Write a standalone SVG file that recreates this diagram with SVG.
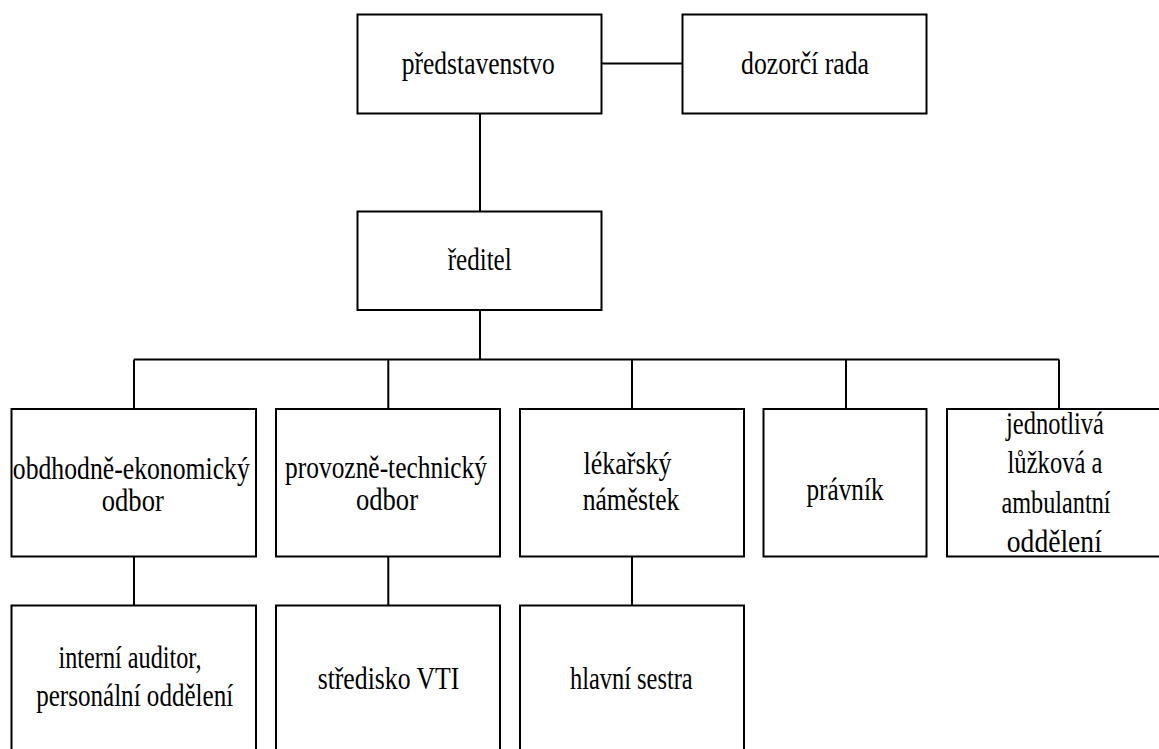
<svg xmlns="http://www.w3.org/2000/svg" width="1159" height="749" viewBox="0 0 1159 749">
<style>
.box{fill:#fff;stroke:#000;stroke-width:2}
.ln{fill:none;stroke:#000;stroke-width:2}
</style>
<rect width="1159" height="749" fill="#fff"/>
<g id="connectors">
<path class="ln" d="M601.5 63.5H682.5"/>
<path class="ln" d="M480 113.5V211.5"/>
<path class="ln" d="M480 310V359.5"/>
<path class="ln" d="M134 359.5H1059"/>
<path class="ln" d="M134 359.5V409M388.3 359.5V409M632 359.5V409M846 359.5V409M1059 359.5V409"/>
<path class="ln" d="M134 556.5V605.5M388.3 556.5V605.5M632 556.5V605.5"/>
</g>
<g id="predstavenstvo"><rect class="box" x="357.5" y="14.5" width="244" height="99"/><text font-family="Liberation Serif" font-size="31" text-anchor="middle" x="478.3" y="74" textLength="153" lengthAdjust="spacingAndGlyphs">představenstvo</text></g>
<g id="dozorci-rada"><rect class="box" x="682.5" y="14.5" width="244" height="99"/><text font-family="Liberation Serif" font-size="31" text-anchor="middle" x="805" y="73.5" textLength="128" lengthAdjust="spacingAndGlyphs">dozorčí rada</text></g>
<g id="reditel"><rect class="box" x="357.5" y="211.5" width="244" height="98.5"/><text font-family="Liberation Serif" font-size="31" text-anchor="middle" x="479.7" y="269.5" textLength="64" lengthAdjust="spacingAndGlyphs">ředitel</text></g>
<g id="obchodne-ekonomicky"><rect class="box" x="11.5" y="409" width="244.5" height="147.5"/><text font-family="Liberation Serif" font-size="31" text-anchor="middle" x="131.3" y="479" textLength="237" lengthAdjust="spacingAndGlyphs">obdhodně-ekonomický</text><text font-family="Liberation Serif" font-size="31" text-anchor="middle" x="132.8" y="510.5" textLength="62" lengthAdjust="spacingAndGlyphs">odbor</text></g>
<g id="provozne-technicky"><rect class="box" x="276" y="409" width="224" height="147.5"/><text font-family="Liberation Serif" font-size="31" text-anchor="middle" x="386" y="478" textLength="202" lengthAdjust="spacingAndGlyphs">provozně-technický</text><text font-family="Liberation Serif" font-size="31" text-anchor="middle" x="387" y="509.5" textLength="62" lengthAdjust="spacingAndGlyphs">odbor</text></g>
<g id="lekarsky-namestek"><rect class="box" x="520" y="409" width="224" height="147.5"/><text font-family="Liberation Serif" font-size="31" text-anchor="middle" x="627.5" y="474" textLength="88" lengthAdjust="spacingAndGlyphs">lékařský</text><text font-family="Liberation Serif" font-size="31" text-anchor="middle" x="631" y="509.5" textLength="96.7" lengthAdjust="spacingAndGlyphs">náměstek</text></g>
<g id="pravnik"><rect class="box" x="763.5" y="409" width="163" height="147.5"/><text font-family="Liberation Serif" font-size="31" text-anchor="middle" x="845" y="499.5" textLength="77" lengthAdjust="spacingAndGlyphs">právník</text></g>
<g id="oddeleni"><rect class="box" x="947" y="409" width="224" height="147.5"/><text font-family="Liberation Serif" font-size="31" text-anchor="middle" x="1055" y="434" textLength="98" lengthAdjust="spacingAndGlyphs">jednotlivá</text><text font-family="Liberation Serif" font-size="31" text-anchor="middle" x="1055" y="473.3" textLength="95" lengthAdjust="spacingAndGlyphs">lůžková a</text><text font-family="Liberation Serif" font-size="31" text-anchor="middle" x="1056" y="512.7" textLength="109" lengthAdjust="spacingAndGlyphs">ambulantní</text><text font-family="Liberation Serif" font-size="31" text-anchor="middle" x="1054.3" y="552" textLength="95" lengthAdjust="spacingAndGlyphs">oddělení</text></g>
<g id="auditor"><rect class="box" x="11.5" y="605.5" width="244.5" height="160"/><text font-family="Liberation Serif" font-size="31" text-anchor="middle" x="130" y="668.3" textLength="143" lengthAdjust="spacingAndGlyphs">interní auditor,</text><text font-family="Liberation Serif" font-size="31" text-anchor="middle" x="134.7" y="706" textLength="197" lengthAdjust="spacingAndGlyphs">personální oddělení</text></g>
<g id="stredisko-vti"><rect class="box" x="276" y="605.5" width="224" height="160"/><text font-family="Liberation Serif" font-size="31" text-anchor="middle" x="388.5" y="689" textLength="141.7" lengthAdjust="spacingAndGlyphs">středisko VTI</text></g>
<g id="hlavni-sestra"><rect class="box" x="520" y="605.5" width="224" height="160"/><text font-family="Liberation Serif" font-size="31" text-anchor="middle" x="631.3" y="689" textLength="122.7" lengthAdjust="spacingAndGlyphs">hlavní sestra</text></g>
</svg>
